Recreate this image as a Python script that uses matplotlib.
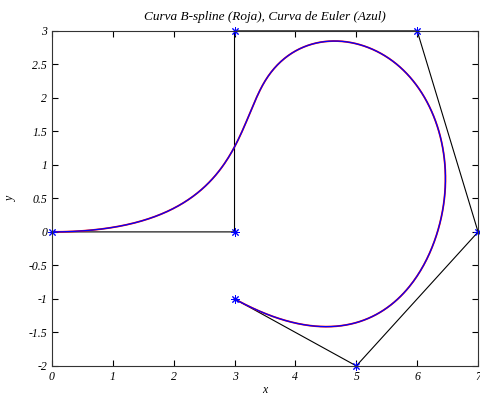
import numpy as np
import matplotlib.pyplot as plt

# control points of the B-spline
ctrl_x = [0, 3, 3, 6, 7, 5, 3]
ctrl_y = [0, 0, 3, 3, 0, -2, -1]
degree = 3


# evaluate a clamped uniform B-spline with de Boor's algorithm
def bspline(px, py, p, n=400):
    P = np.column_stack([px, py]).astype(float)
    m = len(P)
    inner = np.arange(1, m - p)
    knots = np.concatenate([np.zeros(p + 1), inner, np.full(p + 1, m - p)])
    us = np.linspace(0, m - p, n)
    pts = []
    for u in us:
        k = np.searchsorted(knots, u, side='right') - 1
        k = min(k, m - 1)
        d = [P[j + k - p].copy() for j in range(p + 1)]
        for r in range(1, p + 1):
            for j in range(p, r - 1, -1):
                den = knots[j + 1 + k - r] - knots[j + k - p]
                a = 0 if den == 0 else (u - knots[j + k - p]) / den
                d[j] = (1 - a) * d[j - 1] + a * d[j]
        pts.append(d[p])
    pts = np.array(pts)
    return pts[:, 0], pts[:, 1]


bx, by = bspline(ctrl_x, ctrl_y, degree)

plt.rcParams['font.family'] = 'Liberation Serif'
plt.rcParams['font.style'] = 'italic'

fig = plt.figure(figsize=(4.8, 3.96), dpi=100)
ax = fig.add_axes([0.108, 0.076, 0.888, 0.846])

ax.plot(ctrl_x, ctrl_y, color='black', linewidth=0.8, clip_on=False)
ax.plot(bx, by, color='red', linewidth=1.3)
ax.plot(bx, by, color='blue', linewidth=0.9)
# MATLAB-like asterisk markers
ax.plot(ctrl_x, ctrl_y, marker=(8, 2, 0), color='blue', markersize=6, markeredgewidth=0.7,
        linestyle='none', clip_on=False)

ax.set_xlim(0, 7)
ax.set_ylim(-2, 3)
ax.set_xticks(range(0, 8))
ax.set_yticks(np.arange(-2, 3.01, 0.5))
ax.set_yticklabels(['-2', '-1.5', '-1', '-0.5', '0', '0.5', '1', '1.5', '2', '2.5', '3'])
ax.tick_params(direction='in', top=True, right=True, labelsize=8.5, length=4, width=0.8)
for s in ax.spines.values():
    s.set_linewidth(0.8)
    s.set_color('#333333')

ax.set_title('Curva B-spline (Roja), Curva de Euler (Azul)', fontsize=9.5, pad=8)
ax.set_xlabel('x', fontsize=8.5, labelpad=1)
ax.set_ylabel('y', fontsize=8.5, labelpad=8)

fig.savefig('out.png', dpi=100)
